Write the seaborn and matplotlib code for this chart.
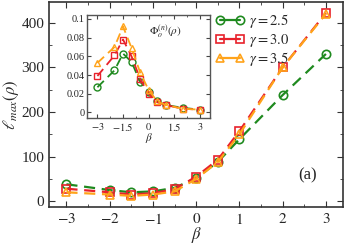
import numpy as np
import matplotlib
matplotlib.use('Agg')
import matplotlib.pyplot as plt
import seaborn as sns
import pandas as pd
from matplotlib.ticker import MultipleLocator

# data
beta = [-3, -2, -1.5, -1, -0.5, 0, 0.5, 1, 2, 3]
lmax_25 = [38, 25, 20, 22, 30, 52, 88, 139, 238, 330]
lmax_30 = [28, 20, 15, 18, 27, 55, 93, 157, 300, 422]
lmax_35 = [20, 15, 12, 15, 22, 50, 88, 150, 300, 420]

phi_25 = [0.027, 0.045, 0.063, 0.054, 0.033, 0.022, 0.012, 0.008, 0.005, 0.003]
phi_30 = [0.039, 0.061, 0.078, 0.060, 0.036, 0.020, 0.011, 0.008, 0.004, 0.003]
phi_35 = [0.053, 0.070, 0.092, 0.069, 0.043, 0.024, 0.012, 0.008, 0.004, 0.003]

gammas = ['2.5', '3.0', '3.5']
colors = ['#1f8a1f', '#e8212b', '#ffa31a']
markers = ['o', 's', '^']

sns.set_style('ticks')
plt.rcParams['font.family'] = ['Liberation Serif', 'DejaVu Serif']
plt.rcParams['mathtext.fontset'] = 'stix'

df = pd.DataFrame({'beta': beta * 3,
                   'lmax': lmax_25 + lmax_30 + lmax_35,
                   'phi': phi_25 + phi_30 + phi_35,
                   'gamma': [g for g in gammas for _ in beta]})

fig = plt.figure(figsize=(3.46, 2.45), dpi=100)
ax = fig.add_axes([0.142, 0.155, 0.85, 0.836])

for g, c, m in zip(gammas, colors, markers):
    sub = df[df['gamma'] == g]
    sns.lineplot(data=sub, x='beta', y='lmax', ax=ax, color=c, marker=m,
                 markersize=6, markerfacecolor='none', markeredgecolor=c,
                 markeredgewidth=1.2, linewidth=1.6, dashes=False,
                 label=r'$\gamma = ' + g + '$')
for line in ax.get_lines():
    line.set_linestyle((0, (5, 3)))

ax.set_xlim(-3.4, 3.4)
ax.set_ylim(-13, 446)
ax.set_xticks([-3, -2, -1, 0, 1, 2, 3])
ax.set_xticklabels([r'$-3$', r'$-2$', r'$-1$', r'$0$', r'$1$', r'$2$', r'$3$'])
ax.set_yticks([0, 100, 200, 300, 400])
ax.xaxis.set_minor_locator(MultipleLocator(0.5))
ax.yaxis.set_minor_locator(MultipleLocator(50))
ax.tick_params(which='both', direction='in', top=True, right=True,
               labelsize=11, color='#333333')
ax.tick_params(which='major', length=4)
ax.tick_params(which='minor', length=2)
for s in ax.spines.values():
    s.set_color('#333333')
    s.set_linewidth(1.2)
ax.set_xlabel(r'$\beta$', fontsize=12, labelpad=-1)
ax.set_ylabel(r'$\ell_{max}(\rho)$', fontsize=12, labelpad=0)
ax.text(2.35, 50, '(a)', fontsize=12)

leg = ax.legend(loc='upper left', bbox_to_anchor=(0.53, 1.0), frameon=False,
                fontsize=10.5, handlelength=2.0, handletextpad=0.3,
                labelspacing=0.1, borderaxespad=0.3, numpoints=2)
for h in leg.get_lines():
    h.set_linestyle('-')

# inset
ins = fig.add_axes([0.252, 0.518, 0.355, 0.42])
for g, c, m in zip(gammas, colors, markers):
    sub = df[df['gamma'] == g]
    sns.lineplot(data=sub, x='beta', y='phi', ax=ins, color=c, marker=m,
                 markersize=5, markerfacecolor='none', markeredgecolor=c,
                 markeredgewidth=1.0, linewidth=1.3, legend=False)
for line in ins.get_lines():
    line.set_linestyle((0, (5, 3)))
ins.set_xlim(-3.6, 3.6)
ins.set_ylim(-0.006, 0.104)
ins.set_xticks([-3, -1.5, 0, 1.5, 3])
ins.set_xticklabels([r'$-3$', r'$-1.5$', r'$0$', r'$1.5$', r'$3$'])
ins.set_yticks([0, 0.02, 0.04, 0.06, 0.08, 0.1])
ins.set_yticklabels(['0', '0.02', '0.04', '0.06', '0.08', '0.1'])
ins.xaxis.set_minor_locator(MultipleLocator(0.75))
ins.tick_params(which='both', direction='in', top=True, right=True,
                labelsize=7.5, color='#444444', pad=2)
ins.tick_params(which='major', length=3)
ins.tick_params(which='minor', length=1.5)
for s in ins.spines.values():
    s.set_color('#555555')
    s.set_linewidth(1.0)
ins.set_xlabel(r'$\beta$', fontsize=8, labelpad=-1)
ins.set_ylabel('')
ins.text(0.5, 0.8, r'$\Phi_o^{(n)}(\rho)$', transform=ins.transAxes, fontsize=8)

fig.savefig('out.png', dpi=100)
